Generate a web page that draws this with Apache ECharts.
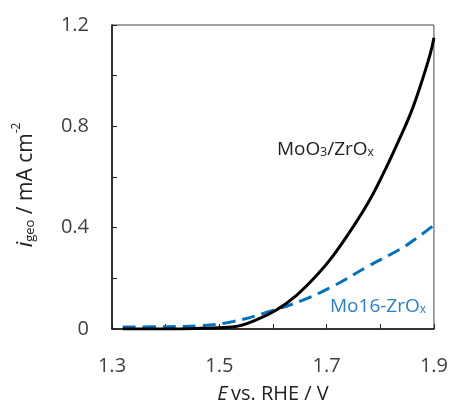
<!DOCTYPE html>
<html><head><meta charset="utf-8">
<script src="https://cdn.jsdelivr.net/npm/echarts@6/dist/echarts.min.js"></script>
<style>html,body{margin:0;padding:0;background:#fff}#c{width:451px;height:405px}</style>
</head><body><div id="c"></div>
<script>
// Data
const moo3E = [1.32, 1.40, 1.465, 1.527, 1.57, 1.607, 1.645, 1.682, 1.713, 1.75, 1.781, 1.806, 1.831, 1.856, 1.874, 1.893, 1.90];
const moo3I = [0.0, 0.0, 0.003, 0.009, 0.037, 0.076, 0.135, 0.213, 0.292, 0.405, 0.512, 0.615, 0.728, 0.848, 0.955, 1.085, 1.15];
const mo16E = [1.32, 1.40, 1.465, 1.527, 1.589, 1.651, 1.713, 1.775, 1.837, 1.862, 1.90];
const mo16I = [0.008, 0.009, 0.013, 0.03, 0.066, 0.11, 0.17, 0.245, 0.315, 0.35, 0.41];
const xTicks = ['1.3', '1.5', '1.7', '1.9'];
const yTicks = ['0', '0.4', '0.8', '1.2'];

const font = '"Open Sans", "Noto Sans", sans-serif';
const chart = echarts.init(document.getElementById('c'));
const pair = (xs, ys) => xs.map((x, i) => [x, ys[i]]);
chart.setOption({
  animation: false,
  grid: {left: 112, right: 17, top: 25, bottom: 76, show: true, borderColor: '#444', borderWidth: 1},
  xAxis: {
    type: 'value', min: 1.3, max: 1.9, interval: 0.1,
    axisLine: {show: true, onZero: false, lineStyle: {color: '#111', width: 1.5}},
    axisTick: {show: true, inside: true, length: 5, lineStyle: {color: '#222'}},
    splitLine: {show: false},
    axisLabel: {
      margin: 27, fontSize: 20, color: '#404040', fontFamily: font,
      formatter: v => { const s = v.toFixed(1); return xTicks.includes(s) ? s : ''; }
    }
  },
  yAxis: {
    type: 'value', min: 0, max: 1.2, interval: 0.2,
    axisLine: {show: true, lineStyle: {color: '#111', width: 1.5}},
    axisTick: {show: true, inside: true, length: 5, lineStyle: {color: '#222'}},
    splitLine: {show: false},
    axisLabel: {
      margin: 23, fontSize: 20, color: '#404040', fontFamily: font,
      formatter: v => { const s = Math.abs(v) < 1e-9 ? '0' : v.toFixed(1); return yTicks.includes(s) ? s : ''; }
    }
  },
  series: [
    {type: 'line', data: pair(mo16E, mo16I), smooth: 0.4, showSymbol: false,
     lineStyle: {color: '#0070C0', width: 3, type: [13, 7]}, z: 2},
    {type: 'line', data: pair(moo3E, moo3I), smooth: 0.4, showSymbol: false,
     lineStyle: {color: '#000', width: 3}, z: 3}
  ],
  graphic: [
    {type: 'text', left: 277, top: 140, style: {
      text: '{a|MoO}{s|3}{a|/ZrO}{s|x}', fill: '#222',
      rich: {a: {fontSize: 19, fontFamily: font, fill: '#222', verticalAlign: 'bottom', lineHeight: 26},
             s: {fontSize: 12, fontFamily: font, fill: '#222', verticalAlign: 'bottom', lineHeight: 18}}}},
    {type: 'text', left: 330, top: 297, style: {
      text: '{a|Mo16-ZrO}{s|x}', fill: '#2b80cc',
      rich: {a: {fontSize: 19, fontFamily: font, fill: '#2b80cc', verticalAlign: 'bottom', lineHeight: 26},
             s: {fontSize: 12, fontFamily: font, fill: '#2b80cc', verticalAlign: 'bottom', lineHeight: 18}}}},
    {type: 'text', x: 273, y: 394, style: {
      text: '{i|E} {a|vs. RHE / V}', align: 'center', verticalAlign: 'middle',
      rich: {i: {fontSize: 20, fontFamily: font, fontStyle: 'italic', fill: '#222'},
             a: {fontSize: 20, fontFamily: font, fill: '#222'}}}},
    {type: 'text', x: 24, y: 185, rotation: Math.PI / 2, style: {
      text: '{i|i}{s|geo}{a| / mA cm}{p|-2}', align: 'center', verticalAlign: 'middle',
      rich: {i: {fontSize: 22, fontFamily: font, fontStyle: 'italic', fill: '#222', verticalAlign: 'bottom', lineHeight: 26},
             s: {fontSize: 13, fontFamily: font, fill: '#222', verticalAlign: 'bottom', lineHeight: 16},
             a: {fontSize: 21, fontFamily: font, fill: '#222', verticalAlign: 'bottom', lineHeight: 26},
             p: {fontSize: 12, fontFamily: font, fill: '#222', verticalAlign: 'top', lineHeight: 18}}}}
  ]
});
</script></body></html>
